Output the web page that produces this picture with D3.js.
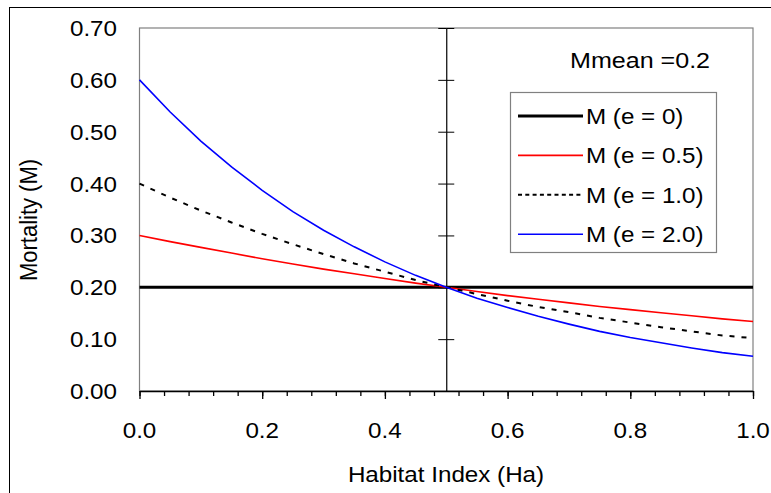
<!DOCTYPE html>
<html>
<head>
<meta charset="utf-8">
<script src="https://cdn.jsdelivr.net/npm/d3@7"></script>
<style>
  body { margin: 0; background: #fff; }
  svg { display: block; font-family: "Liberation Sans", Arial, sans-serif; }
</style>
</head>
<body>
<svg width="771" height="493"></svg>
<script>
// habitat index values and mortality for each e
const habitat = [0, 0.05, 0.1, 0.15, 0.2, 0.25, 0.3, 0.35, 0.4, 0.45, 0.5,
  0.55, 0.6, 0.65, 0.7, 0.75, 0.8, 0.85, 0.9, 0.95, 1.0];
const mE0 = [0.2, 0.2, 0.2, 0.2, 0.2, 0.2, 0.2, 0.2, 0.2, 0.2, 0.2,
  0.2, 0.2, 0.2, 0.2, 0.2, 0.2, 0.2, 0.2, 0.2, 0.2];
const mE05 = [0.300, 0.288, 0.277, 0.266, 0.255, 0.245, 0.235, 0.226, 0.217, 0.208, 0.200,
  0.192, 0.184, 0.177, 0.170, 0.163, 0.157, 0.151, 0.145, 0.139, 0.134];
const mE10 = [0.400, 0.373, 0.348, 0.325, 0.303, 0.283, 0.264, 0.246, 0.230, 0.214, 0.200,
  0.187, 0.174, 0.162, 0.152, 0.141, 0.132, 0.123, 0.115, 0.107, 0.102];
const mE20 = [0.600, 0.538, 0.482, 0.432, 0.387, 0.346, 0.310, 0.278, 0.249, 0.223, 0.200,
  0.179, 0.161, 0.144, 0.129, 0.115, 0.103, 0.093, 0.083, 0.074, 0.067];

const seriesNames = ['M (e = 0)', 'M (e = 0.5)', 'M (e = 1.0)', 'M (e = 2.0)'];
const xTickLabels = ['0.0', '0.2', '0.4', '0.6', '0.8', '1.0'];
const yTickLabels = ['0.00', '0.10', '0.20', '0.30', '0.40', '0.50', '0.60', '0.70'];

const series = [
  { name: seriesNames[0], values: mE0, color: '#000', width: 3, dash: null, legendDash: null },
  { name: seriesNames[1], values: mE05, color: '#ff0000', width: 1.6, dash: null, legendDash: null },
  { name: seriesNames[2], values: mE10, color: '#000', width: 2, dash: '5,7', legendDash: '4,3.3' },
  { name: seriesNames[3], values: mE20, color: '#0000ff', width: 1.6, dash: null, legendDash: null },
];

const svg = d3.select('svg');
const sx = 1.1; // text looks stretched horizontally

const x = d3.scaleLinear().domain([0, 1]).range([139.5, 753]);
const y = d3.scaleLinear().domain([0, 0.7]).range([391, 28]);

// outer frame
svg.append('rect')
  .attr('x', 9.5).attr('y', 7.5)
  .attr('width', 800).attr('height', 600)
  .attr('fill', 'none').attr('stroke', '#000').attr('stroke-width', 1);

// plot border
svg.append('rect')
  .attr('x', x(0)).attr('y', y(0.7))
  .attr('width', x(1) - x(0)).attr('height', y(0) - y(0.7))
  .attr('fill', 'none').attr('stroke', '#808080').attr('stroke-width', 1.2);

// x axis with minor and major ticks
const minorTicks = d3.range(0, 26).map((i) => i * 0.04);
const majorTicks = xTickLabels.map(Number);

svg.append('g')
  .attr('transform', `translate(0,${y(0)})`)
  .call(d3.axisBottom(x).tickValues(minorTicks).tickSize(5).tickSizeOuter(0).tickFormat(''))
  .call((g) => g.selectAll('line').attr('stroke-width', 1.3));
svg.append('g')
  .attr('transform', `translate(0,${y(0)})`)
  .call(d3.axisBottom(x).tickValues(majorTicks).tickSize(8).tickSizeOuter(0).tickFormat(''))
  .call((g) => g.selectAll('line').attr('stroke-width', 1.3))
  .call((g) => g.select('.domain').attr('stroke-width', 1.5));

// y axis drawn at Ha = 0.5, ticks crossing
const yTicks = yTickLabels.map(Number);
svg.append('g')
  .attr('transform', `translate(${x(0.5)},0)`)
  .call(d3.axisLeft(y).tickValues(yTicks).tickSize(8).tickSizeOuter(0).tickFormat(''))
  .call((g) => g.select('.domain').attr('stroke-width', 1.2));
svg.append('g')
  .attr('transform', `translate(${x(0.5)},0)`)
  .call(d3.axisRight(y).tickValues(yTicks).tickSize(8).tickSizeOuter(0).tickFormat(''))
  .call((g) => g.select('.domain').remove());

// tick labels
svg.append('g').selectAll('text')
  .data(xTickLabels)
  .join('text')
  .attr('transform', (d) => `translate(${x(+d)},438) scale(${sx},1)`)
  .attr('text-anchor', 'middle')
  .style('font-size', '22px')
  .text((d) => d);

svg.append('g').selectAll('text')
  .data(yTickLabels)
  .join('text')
  .attr('transform', (d) => `translate(117,${y(+d) + 8}) scale(${sx},1)`)
  .attr('text-anchor', 'end')
  .style('font-size', '22px')
  .text((d) => d);

// axis titles
svg.append('text')
  .attr('transform', `translate(446,482) scale(${sx},1)`)
  .attr('text-anchor', 'middle')
  .style('font-size', '22px')
  .text('Habitat Index (Ha)');

svg.append('text')
  .attr('transform', 'translate(37,220) rotate(-90) scale(1,1.1)')
  .attr('text-anchor', 'middle')
  .style('font-size', '22px')
  .text('Mortality (M)');

// lines
const line = d3.line()
  .x((d, i) => x(habitat[i]))
  .y((d) => y(d));

svg.append('g').selectAll('path')
  .data(series)
  .join('path')
  .attr('d', (d) => line(d.values))
  .attr('fill', 'none')
  .attr('stroke', (d) => d.color)
  .attr('stroke-width', (d) => d.width)
  .attr('stroke-dasharray', (d) => d.dash);

// Mmean label
svg.append('text')
  .attr('transform', 'translate(570,68) scale(1.14,1)')
  .style('font-size', '22px')
  .text('Mmean =0.2');

// legend
const legend = svg.append('g');
legend.append('rect')
  .attr('x', 510.5).attr('y', 92.5)
  .attr('width', 206).attr('height', 160)
  .attr('fill', '#fff').attr('stroke', '#808080').attr('stroke-width', 1.2);

const rows = legend.selectAll('g.row')
  .data(series)
  .join('g')
  .attr('class', 'row')
  .attr('transform', (d, i) => `translate(0,${116 + i * 39.4})`);

rows.append('line')
  .attr('x1', 518).attr('x2', 583)
  .attr('stroke', (d) => d.color)
  .attr('stroke-width', (d) => d.width)
  .attr('stroke-dasharray', (d) => d.legendDash);

rows.append('text')
  .attr('transform', `translate(586,8) scale(${sx},1)`)
  .style('font-size', '22px')
  .text((d) => d.name);
</script>
</body>
</html>
